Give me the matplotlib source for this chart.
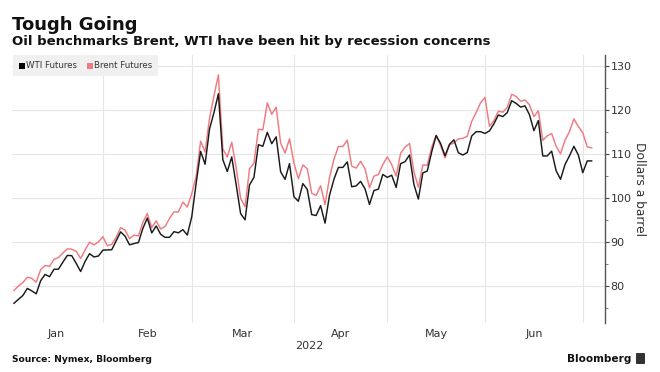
import numpy as np
import pandas as pd
import matplotlib
matplotlib.use("Agg")
import matplotlib.pyplot as plt
from matplotlib.patches import Rectangle, FancyBboxPatch

# ---------------- data (weekday closes, holidays carry previous value) ----------------
start_date = "2022-01-03"
end_date = "2022-07-04"

wti_jan = [76.08, 76.99, 77.85, 79.46, 78.90, 78.23, 81.22, 82.64, 82.12, 83.82, 83.82,
           85.43, 86.96, 86.90, 85.14, 83.31, 85.60, 87.35, 86.61, 86.82, 88.15]
wti_feb = [88.20, 88.26, 90.27, 92.31, 91.32, 89.36, 89.66, 89.88, 93.10, 95.46, 92.07,
           93.66, 91.76, 91.07, 91.07, 92.35, 92.10, 92.81, 91.59, 95.72]
wti_mar = [103.41, 110.60, 107.67, 115.68, 119.40, 123.70, 108.70, 106.02, 109.33, 103.01,
           96.44, 95.04, 102.98, 104.70, 112.12, 111.76, 114.93, 112.34, 113.90, 105.96,
           104.24, 107.82, 100.28]
wti_apr = [99.27, 103.28, 101.96, 96.23, 96.03, 98.26, 94.29, 100.60, 104.25, 106.95, 106.95,
           108.21, 102.56, 102.75, 103.79, 102.07, 98.54, 101.70, 102.02, 105.36, 104.69]
wti_may = [105.17, 102.41, 107.81, 108.26, 109.77, 103.09, 99.76, 105.71, 106.13, 110.49,
           114.20, 112.40, 109.59, 112.21, 113.23, 110.29, 109.77, 110.33, 114.09, 115.07,
           115.07, 114.67]
wti_jun = [115.26, 116.87, 118.87, 118.50, 119.41, 122.11, 121.51, 120.67, 120.93, 118.93,
           115.31, 117.59, 109.56, 109.56, 110.65, 106.19, 104.27, 107.62, 109.57, 111.76,
           109.78, 105.76]
wti_jul = [108.43, 108.43]

brent_jan = [78.98, 80.00, 80.80, 81.99, 81.75, 80.87, 83.72, 84.67, 84.47, 86.06, 86.48,
             87.51, 88.44, 88.38, 87.89, 86.27, 88.20, 89.96, 89.34, 90.03, 91.21]
brent_feb = [89.16, 89.47, 91.11, 93.27, 92.69, 90.78, 91.55, 91.41, 94.44, 96.48, 93.28,
             94.81, 92.97, 93.54, 95.39, 96.84, 96.84, 99.08, 97.93, 100.99]
brent_mar = [104.97, 112.93, 110.46, 118.11, 123.21, 127.98, 111.14, 109.33, 112.67, 106.90,
             99.91, 98.02, 106.64, 107.93, 115.62, 115.48, 121.60, 119.03, 120.65, 112.48,
             110.23, 113.45, 107.91]
brent_apr = [104.39, 107.53, 106.64, 101.07, 100.58, 102.78, 98.48, 104.64, 108.78, 111.70,
             111.70, 113.16, 107.25, 106.80, 108.33, 106.65, 102.32, 104.99, 105.32, 107.59,
             109.34]
brent_may = [107.58, 104.97, 110.14, 111.55, 112.39, 105.94, 102.46, 107.51, 107.45, 111.55,
             114.24, 111.93, 109.11, 112.04, 112.55, 113.42, 113.56, 114.03, 117.40, 119.43,
             121.67, 122.84]
brent_jun = [116.29, 117.61, 119.72, 119.51, 120.57, 123.58, 123.07, 122.01, 122.27, 121.17,
             118.51, 119.81, 113.12, 114.13, 114.65, 111.74, 110.05, 113.12, 115.09, 117.98,
             116.26, 114.81]
brent_jul = [111.63, 111.40]

month_labels = ["Jan", "Feb", "Mar", "Apr", "May", "Jun"]
year_label = "2022"
y_ticks = [80, 90, 100, 110, 120, 130]

wti = wti_jan + wti_feb + wti_mar + wti_apr + wti_may + wti_jun + wti_jul
brent = brent_jan + brent_feb + brent_mar + brent_apr + brent_may + brent_jun + brent_jul

dates = pd.bdate_range(start_date, end_date)
n = min(len(dates), len(wti), len(brent))
dates = dates[:n]
x = np.arange(n)

# ---------------- figure ----------------
W, H = 660, 372
fig = plt.figure(figsize=(W / 100, H / 100), dpi=100)
plt.rcParams["font.family"] = ["DejaVu Sans"]

def fx(px):
    return px / W

def fy(py):
    return 1 - py / H

L, R, T, B = 12, 605, 55, 323
ax = fig.add_axes([fx(L), fy(B), fx(R) - fx(L), fy(T) - fy(B)])

GRID = "#e6e6e6"
RED = "#f07a80"
BLACK = "#1a1a1a"

ax.plot(x, brent[:n], color=RED, lw=1.05, zorder=3)
ax.plot(x, wti[:n], color=BLACK, lw=1.05, zorder=4)

ax.set_xlim(-0.45, 133)
ax.set_ylim(71.6, 132.5)

# month boundaries (trading-index based)
months = dates.month
starts = [i for i in range(1, n) if months[i] != months[i - 1]]
bounds = [s - 1 for s in starts]
for b in bounds:
    ax.axvline(b, color=GRID, lw=0.8, zorder=1)
edges = [-1] + bounds
mids = [(edges[i] + edges[i + 1]) / 2 for i in range(len(month_labels))]
ax.set_xticks(mids)
ax.set_xticklabels(month_labels, fontsize=8, color="#333333")
ax.tick_params(axis="x", length=0, pad=4)

# y axis on right
ax.yaxis.tick_right()
ax.yaxis.set_label_position("right")
ax.set_yticks(y_ticks)
ax.set_yticks([t - 5 for t in y_ticks], minor=True)
ax.set_yticklabels([str(t) for t in y_ticks], fontsize=8, color="#333333")
ax.tick_params(axis="y", which="major", length=3, width=0.8, color="#444444", pad=1)
ax.tick_params(axis="y", which="minor", length=2, width=0.6, color="#666666")
ax.grid(axis="y", which="major", color=GRID, lw=0.8, zorder=1)
ax.set_axisbelow(True)
for s in ["top", "left", "bottom"]:
    ax.spines[s].set_visible(False)
ax.spines["right"].set_color("#555555")
ax.spines["right"].set_linewidth(1.0)
ax.set_ylabel("Dollars a barrel", fontsize=8.8, color="#333333", rotation=270,
              labelpad=10)

ax.text(0.5 * (fx(297) + fx(322) - 2 * fx(L)) / (fx(R) - fx(L)), -0.085, year_label,
        transform=ax.transAxes, ha="center", va="center", fontsize=8, color="#333333")

# ---------------- titles ----------------
fig.text(fx(12), fy(30), "Tough Going", fontsize=13, fontweight="bold",
         color="#111111", ha="left", va="baseline")
fig.text(fx(12), fy(45), "Oil benchmarks Brent, WTI have been hit by recession concerns",
         fontsize=9.5, fontweight="bold", color="#111111", ha="left", va="baseline")

# ---------------- legend ----------------
fig.add_artist(Rectangle((fx(13), fy(76)), fx(158) - fx(13), fy(55) - fy(76),
                         transform=fig.transFigure, facecolor="#f0f0f0",
                         edgecolor="none", zorder=5))
fig.add_artist(Rectangle((fx(19), fy(69)), fx(6), fy(0) - fy(6),
                         transform=fig.transFigure, facecolor="#000000",
                         edgecolor="none", zorder=6))
fig.text(fx(26.5), fy(66), "WTI Futures", fontsize=6.2, color="#333333",
         ha="left", va="center", zorder=6)
fig.add_artist(Rectangle((fx(87), fy(69)), fx(6), fy(0) - fy(6),
                         transform=fig.transFigure, facecolor=RED,
                         edgecolor="none", zorder=6))
fig.text(fx(94.5), fy(66), "Brent Futures", fontsize=6.2, color="#333333",
         ha="left", va="center", zorder=6)

# ---------------- footer ----------------
fig.text(fx(12), fy(359), "Source: Nymex, Bloomberg", fontsize=6.6, fontweight="bold",
         color="#111111", ha="left", va="center")
fig.text(fx(631), fy(359), "Bloomberg", fontsize=7.6, fontweight="bold",
         color="#111111", ha="right", va="center")
fig.add_artist(FancyBboxPatch((fx(636), fy(364)), fx(645) - fx(636), fy(353) - fy(364),
                              boxstyle="round,pad=0,rounding_size=0.002",
                              transform=fig.transFigure, facecolor="#333333",
                              edgecolor="none"))

fig.savefig("out.png", dpi=100)
